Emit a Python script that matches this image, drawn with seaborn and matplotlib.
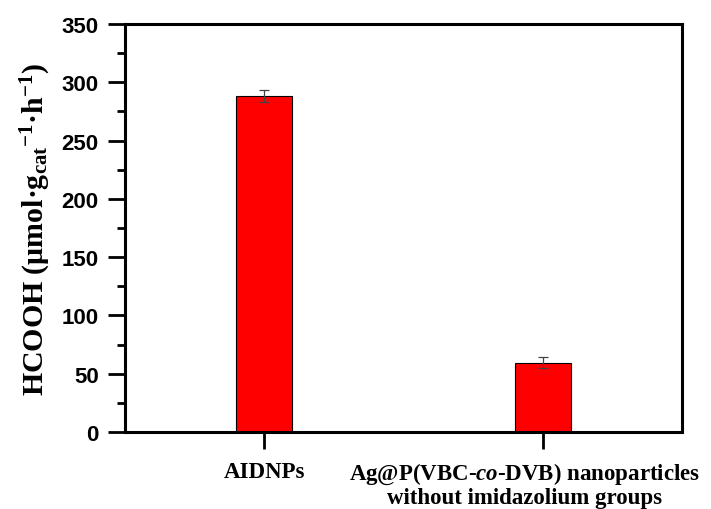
import numpy as np
import pandas as pd
import matplotlib
matplotlib.use("Agg")
import matplotlib.pyplot as plt
from matplotlib.ticker import MultipleLocator
from matplotlib.transforms import ScaledTranslation
import seaborn as sns

# data
samples = ["AIDNPs",
           "Ag@P(VBC-$\\mathit{co}$-DVB) nanoparticles\nwithout imidazolium groups"]
rates = [288.5, 59.5]
errors = [5.0, 5.0]

df = pd.DataFrame({"sample": samples, "rate": rates})

sns.set_theme(style="ticks")
plt.rcParams["mathtext.fontset"] = "custom"
plt.rcParams["mathtext.rm"] = "Liberation Serif:bold"
plt.rcParams["mathtext.it"] = "Liberation Serif:bold:italic"
plt.rcParams["mathtext.bf"] = "Liberation Serif:bold"
plt.rcParams["text.color"] = "black"
plt.rcParams["axes.labelcolor"] = "black"
plt.rcParams["xtick.color"] = "black"
plt.rcParams["ytick.color"] = "black"

fig = plt.figure(figsize=(7.11, 5.10), dpi=100)
ax = fig.add_axes([0.176, 0.151, 0.783, 0.800])

sns.barplot(data=df, x="sample", y="rate", color="#ff0000", width=0.2,
            edgecolor="black", linewidth=0.8, saturation=1, errorbar=None, ax=ax)
ax.errorbar(np.arange(len(rates)), rates, yerr=errors, fmt="none",
            ecolor="#444444", elinewidth=0.9, capsize=3.5, capthick=0.9)

ax.set_xlim(-0.5, 1.5)
ax.set_ylim(0, 350)
ax.yaxis.set_major_locator(MultipleLocator(50))
ax.yaxis.set_minor_locator(MultipleLocator(25))

for s in ax.spines.values():
    s.set_linewidth(2.2)
    s.set_color("black")
    s.set_visible(True)

ax.tick_params(axis="both", which="major", direction="out", length=12,
               width=2.0, color="black", labelcolor="black", top=False, right=False)
ax.tick_params(axis="y", which="minor", direction="out", length=5.5,
               width=2.0, color="black", right=False)
ax.tick_params(axis="y", pad=7)
ax.tick_params(axis="x", pad=9)

for lab in ax.get_yticklabels():
    lab.set_fontfamily("Liberation Sans")
    lab.set_fontweight("bold")
    lab.set_fontsize(16)
for lab in ax.get_xticklabels():
    lab.set_fontfamily("Liberation Serif")
    lab.set_fontweight("bold")
    lab.set_fontsize(16.5)
    lab.set_linespacing(1.05)

# the long label sits a little left of its tick in the original
long_lab = ax.get_xticklabels()[1]
long_lab.set_transform(long_lab.get_transform()
                       + ScaledTranslation(-0.18, 0, fig.dpi_scale_trans))

ax.set_xlabel("")
ax.set_ylabel("HCOOH (μmol·g$_{\\mathrm{cat}}$$^{\\mathrm{-1}}$·h$^{\\mathrm{-1}}$)",
              fontfamily="Liberation Serif", fontweight="bold", fontsize=21.5,
              labelpad=6)

fig.savefig("out.png", dpi=100)
